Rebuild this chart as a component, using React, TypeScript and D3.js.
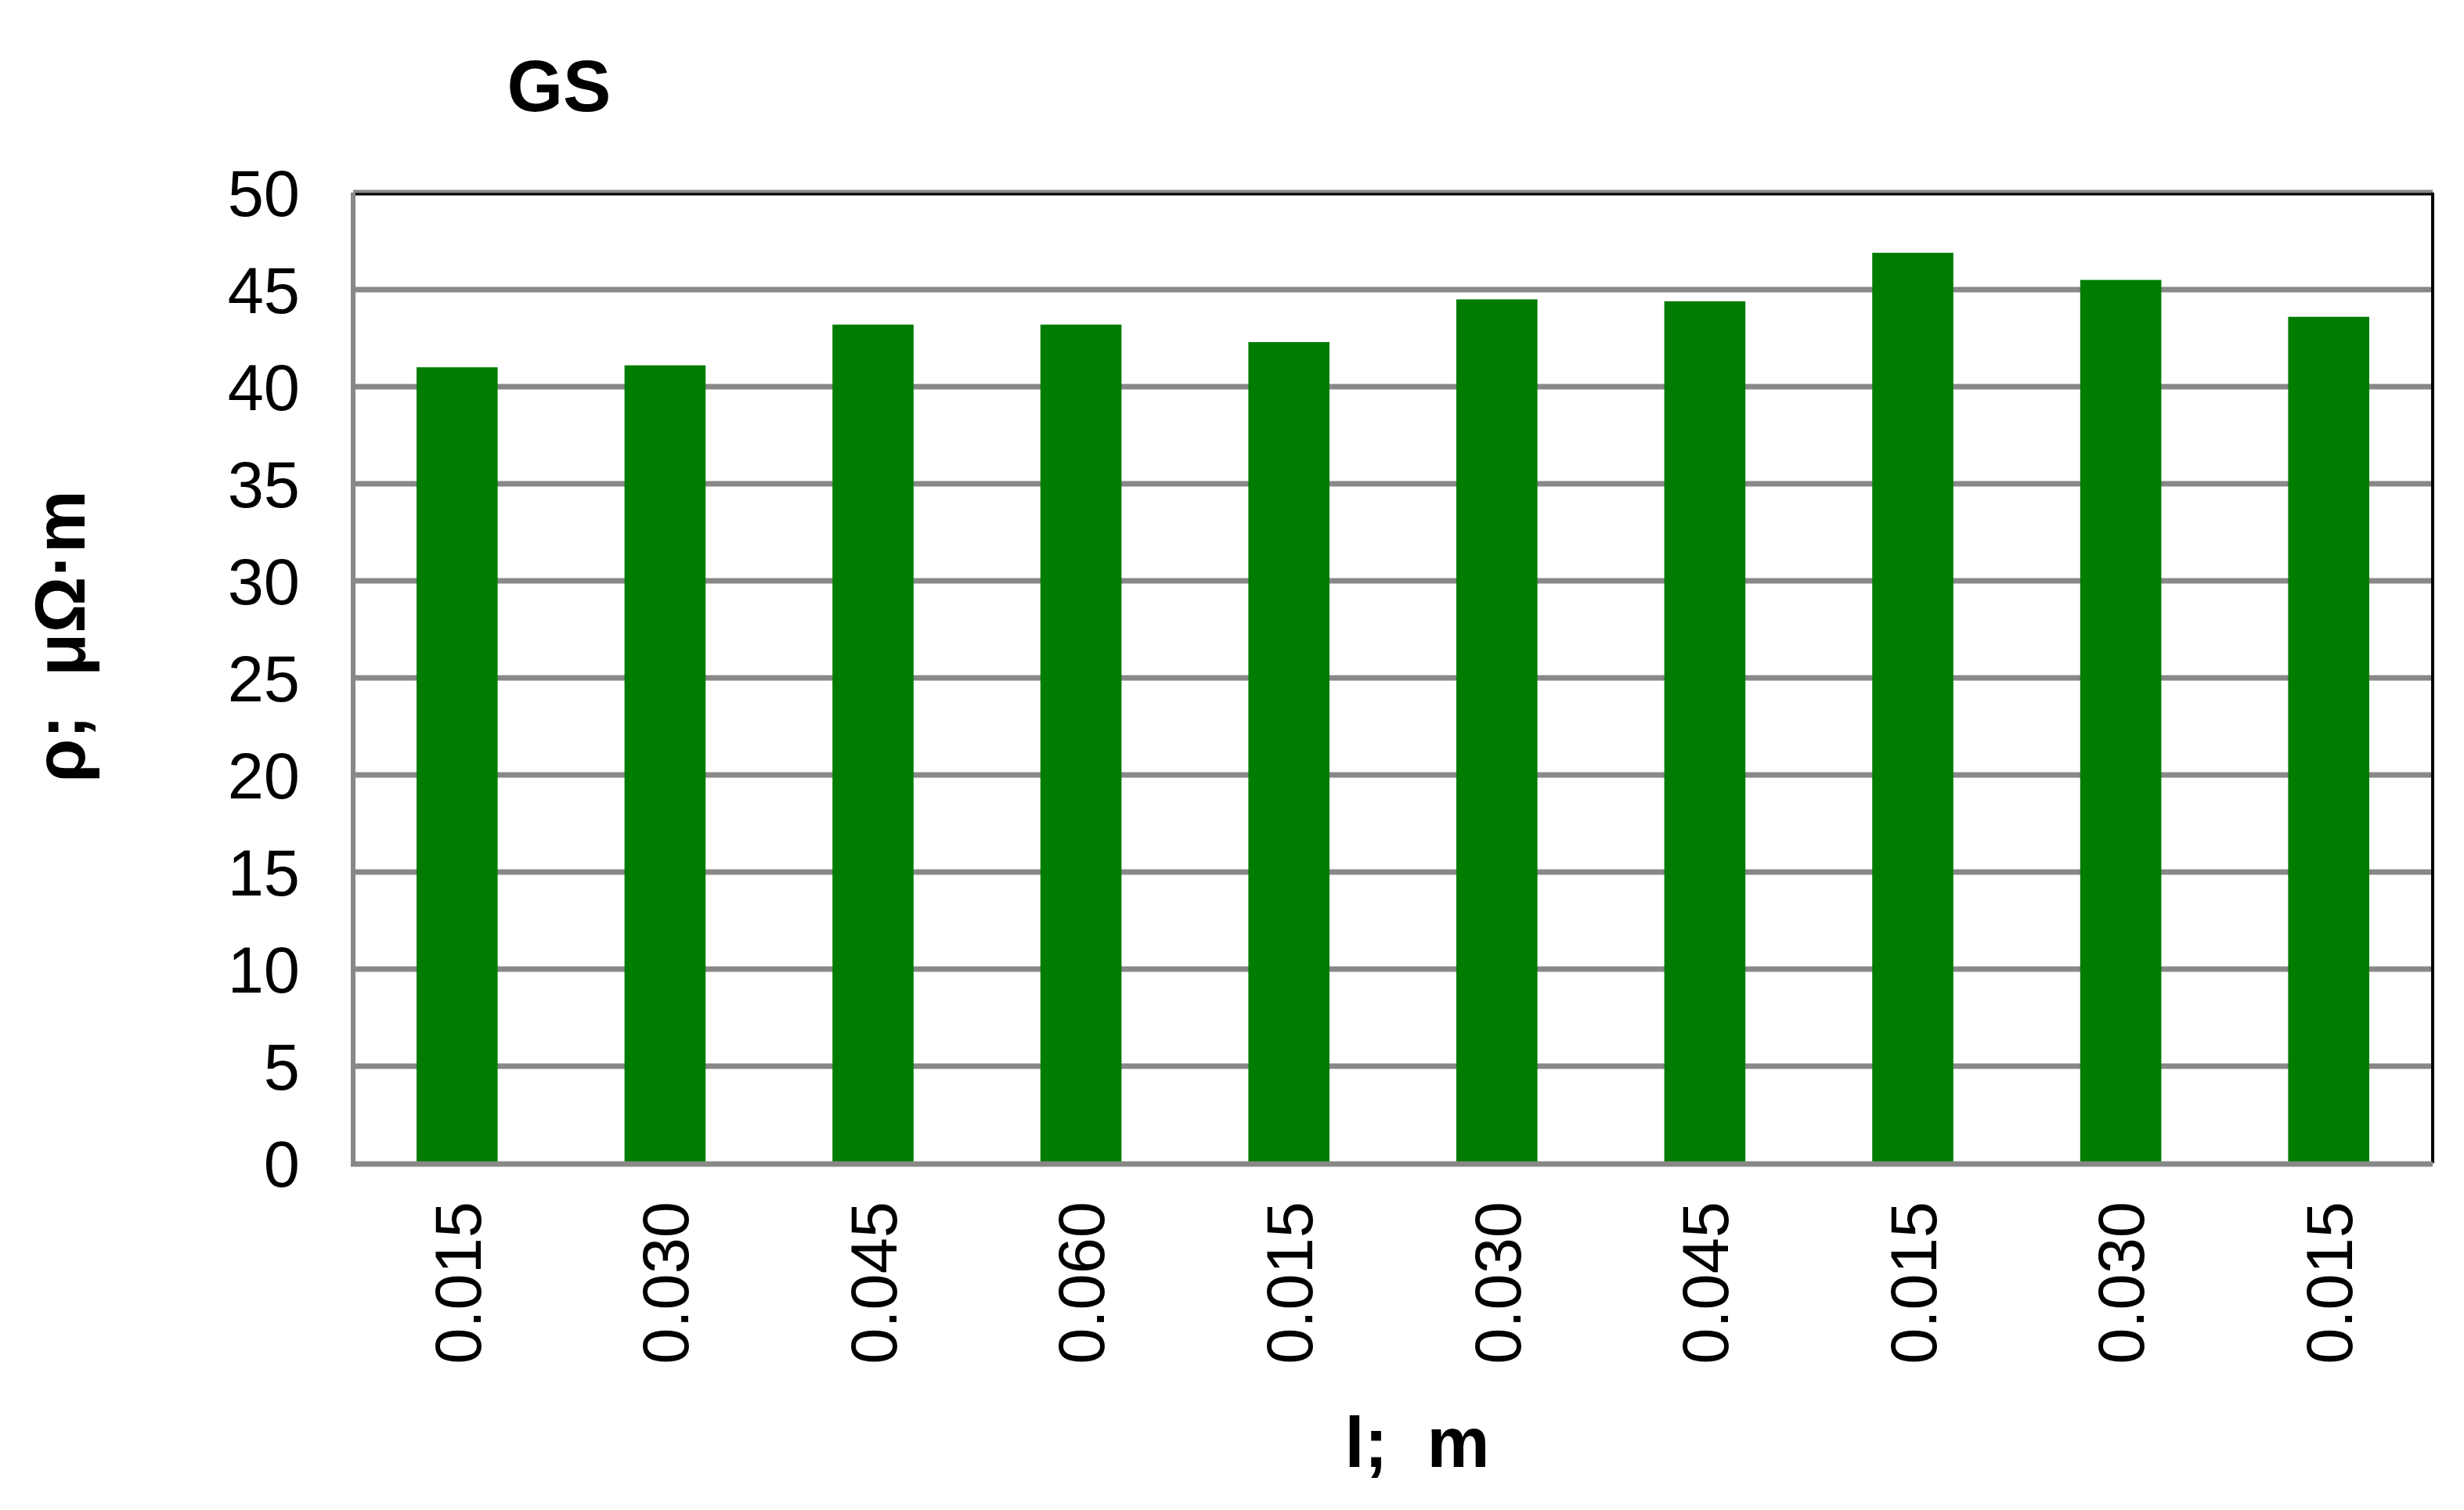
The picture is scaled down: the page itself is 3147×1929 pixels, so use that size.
import React, { useEffect, useRef } from 'react';
import * as d3 from 'd3';

// bar categories (conductor length, m) and measured resistivity (μΩ·m)
const lengths = ['0.015', '0.030', '0.045', '0.060', '0.015', '0.030', '0.045', '0.015', '0.030', '0.015'];
const resistivity = [41.0, 41.1, 43.2, 43.2, 42.3, 44.5, 44.4, 46.9, 45.5, 43.6];
const yTicks = [0, 5, 10, 15, 20, 25, 30, 35, 40, 45, 50];

const App: React.FC = () => {
  const svgRef = useRef<SVGSVGElement>(null);
  const width = 3147;
  const height = 1929;

  useEffect(() => {
    document.body.style.margin = '0';
    if (!svgRef.current) return;

    const svg = d3.select(svgRef.current);
    svg.selectAll('*').remove();

    const left = 451;
    const right = 3107;
    const top = 246;
    const bottom = 1486;
    const font = 'Liberation Sans, Arial, sans-serif';

    const data = lengths.map((l, i) => ({ key: `${i}`, label: l, value: resistivity[i] }));

    const xScale = d3.scaleBand()
      .domain(data.map(d => d.key))
      .range([left, right])
      .padding(0);

    const yScale = d3.scaleLinear()
      .domain([0, 50])
      .range([bottom, top]);

    const barW = xScale.bandwidth() * 0.39;

    // gridlines
    svg.append('g')
      .selectAll('line')
      .data(yTicks.filter(t => t > 0))
      .enter().append('line')
      .attr('x1', left)
      .attr('x2', right)
      .attr('y1', d => yScale(d))
      .attr('y2', d => yScale(d))
      .attr('stroke', '#888')
      .attr('stroke-width', 7);

    // top / right frame
    svg.append('line')
      .attr('x1', left).attr('x2', right)
      .attr('y1', top + 2).attr('y2', top + 2)
      .attr('stroke', '#000').attr('stroke-width', 3);
    svg.append('line')
      .attr('x1', right).attr('x2', right)
      .attr('y1', top).attr('y2', bottom)
      .attr('stroke', '#000').attr('stroke-width', 4);

    // bars
    svg.append('g')
      .selectAll('rect')
      .data(data)
      .enter().append('rect')
      .attr('x', d => (xScale(d.key) || 0) + xScale.bandwidth() / 2 - barW / 2)
      .attr('width', barW)
      .attr('y', d => yScale(d.value))
      .attr('height', d => bottom - yScale(d.value))
      .attr('fill', '#007d00');

    // axes lines
    svg.append('line')
      .attr('x1', left).attr('x2', left)
      .attr('y1', top).attr('y2', bottom + 4)
      .attr('stroke', '#888').attr('stroke-width', 6);
    svg.append('line')
      .attr('x1', left - 3).attr('x2', right)
      .attr('y1', bottom + 1).attr('y2', bottom + 1)
      .attr('stroke', '#888').attr('stroke-width', 7);

    // y tick labels
    svg.append('g')
      .selectAll('text')
      .data(yTicks)
      .enter().append('text')
      .attr('x', 383)
      .attr('y', d => yScale(d))
      .attr('dy', '0.36em')
      .attr('text-anchor', 'end')
      .style('font-family', font)
      .style('font-size', '83px')
      .style('fill', '#000')
      .text(d => d);

    // x tick labels, rotated
    svg.append('g')
      .selectAll('text')
      .data(data)
      .enter().append('text')
      .attr('transform', d => `translate(${(xScale(d.key) || 0) + xScale.bandwidth() / 2},1535) rotate(-90)`)
      .attr('dy', '0.36em')
      .attr('text-anchor', 'end')
      .style('font-family', font)
      .style('font-size', '83px')
      .style('fill', '#000')
      .text(d => d.label);

    // title
    svg.append('text')
      .attr('x', 714)
      .attr('y', 142)
      .attr('text-anchor', 'middle')
      .style('font-family', font)
      .style('font-size', '92px')
      .style('font-weight', 'bold')
      .text('GS');

    // axis titles
    svg.append('text')
      .attr('x', 1810)
      .attr('y', 1874)
      .attr('text-anchor', 'middle')
      .style('font-family', font)
      .style('font-size', '90px')
      .style('font-weight', 'bold')
      .style('white-space', 'pre')
      .text('l;  m');

    svg.append('text')
      .attr('transform', 'translate(108,813) rotate(-90)')
      .attr('text-anchor', 'middle')
      .style('font-family', font)
      .style('font-size', '90px')
      .style('font-weight', 'bold')
      .style('white-space', 'pre')
      .text('ρ;  μΩ·m');
  }, []);

  return (
    <svg ref={svgRef} width={width} height={height} style={{ display: 'block', background: '#fff' }}></svg>
  );
};

export default App;
